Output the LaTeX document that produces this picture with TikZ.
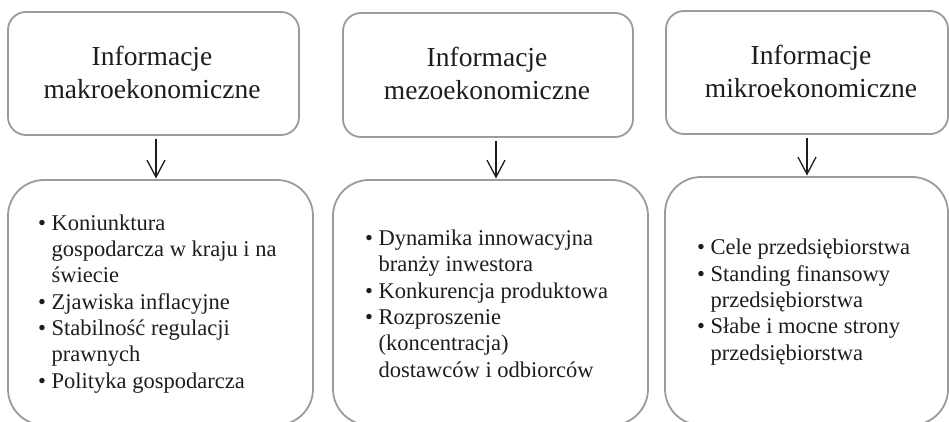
\documentclass[tikz,border=0pt]{standalone}
\usepackage{fontspec}
\setmainfont{Liberation Serif}
\usetikzlibrary{arrows.meta}
\definecolor{boxgray}{RGB}{155,155,155}
\definecolor{ink}{RGB}{30,28,29}
\newcommand\bulind{\hphantom{•\ }}
\begin{document}
\begin{tikzpicture}[x=1pt,y=-1pt,
  tbox/.style={draw=boxgray, line width=1.8pt, rounded corners=18pt, inner sep=0pt, outer sep=0pt},
  bbox/.style={draw=boxgray, line width=1.8pt, rounded corners=36pt, inner sep=0pt, outer sep=0pt},
  ttl/.style={font=\fontsize{27.5}{33}\selectfont, align=center, text=ink, inner sep=0pt, anchor=base},
  lst/.style={font=\fontsize{22.5}{26.3}\selectfont, align=left, text=ink, inner sep=0pt, anchor=base west},
  arr/.style={draw=ink, line width=1.3pt, -{Straight Barb[length=17pt,width=18pt,line width=1.3pt]}, shorten <=4pt, shorten >=1.5pt}
]
\useasboundingbox (0,0) rectangle (949,422);
% top boxes
\node[tbox, minimum width=291pt, minimum height=123pt] (T1) at (153.5,73.5) {};
\node[tbox, minimum width=290pt, minimum height=124pt] (T2) at (488,75) {};
\node[tbox, minimum width=282pt, minimum height=123pt] (T3) at (807,72.5) {};
% bottom boxes (bottom edge just below the picture)
\node[bbox, minimum width=305pt, minimum height=245pt] (B1) at (160.5,302.5) {};
\node[bbox, minimum width=315pt, minimum height=245pt] (B2) at (490.5,302.5) {};
\node[bbox, minimum width=283pt, minimum height=248pt] (B3) at (806.5,301) {};
% titles (base anchor = last line)
\node[ttl] (t1) at (152,99) {Informacje\\makroekonomiczne};
\node[ttl] (t2) at (487,100) {Informacje\\mezoekonomiczne};
\node[ttl] (t3) at (811,98) {Informacje\\mikroekonomiczne};
% lists (base anchor = last line)
\node[lst] (l1) at (38,388) {• Koniunktura\\\bulind gospodarcza w kraju i na\\\bulind świecie\\• Zjawiska inflacyjne\\• Stabilność regulacji\\\bulind prawnych\\• Polityka gospodarcza};
\node[lst] (l2) at (365,377) {• Dynamika innowacyjna\\\bulind branży inwestora\\• Konkurencja produktowa\\• Rozproszenie\\\bulind (koncentracja)\\\bulind dostawców i odbiorców};
\node[lst] (l3) at (697,360) {• Cele przedsiębiorstwa\\• Standing finansowy\\\bulind przedsiębiorstwa\\• Słabe i mocne strony\\\bulind przedsiębiorstwa};
% arrows
\coordinate (a1) at (156,0);
\coordinate (a2) at (496,0);
\coordinate (a3) at (807,0);
\draw[arr] (T1.south -| a1) -- (B1.north -| a1);
\draw[arr] (T2.south -| a2) -- (B2.north -| a2);
\draw[arr] (T3.south -| a3) -- (B3.north -| a3);
\end{tikzpicture}
\end{document}
